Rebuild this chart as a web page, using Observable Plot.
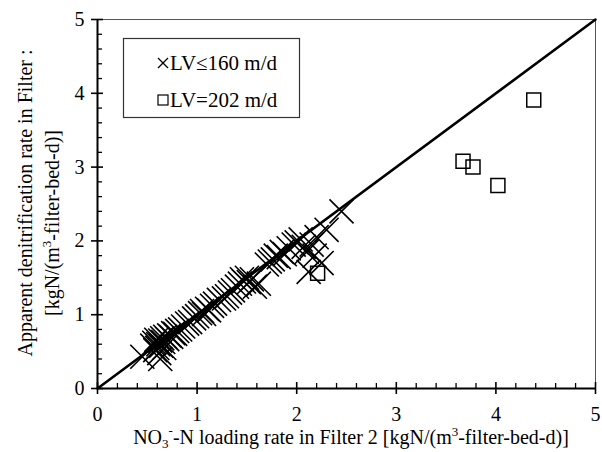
<!DOCTYPE html>
<html><head><meta charset="utf-8">
<script src="https://cdn.jsdelivr.net/npm/d3@7"></script>
<script src="https://cdn.jsdelivr.net/npm/@observablehq/plot@0.6"></script>
<style>
  body { margin: 0; background: #fff; }
  #chart svg { display: block; }
</style>
</head><body><div id="chart"></div>
<script>
// NO3-N loading rate (x) vs apparent denitrification rate (y), kgN/(m3-filter-bed-d)
// Runs with LV ≤ 160 m/d
const lowLV_x = [0.45, 0.63, 0.55, 0.57, 0.58, 0.59, 0.60, 0.61, 0.62, 0.63,
                 0.64, 0.65, 0.66, 0.67, 0.68, 0.70, 0.72, 0.74, 0.76, 0.78,
                 0.80, 0.83, 0.86, 0.90, 0.93, 0.97, 1.00, 1.03, 1.05, 1.07,
                 1.10, 1.12, 1.15, 1.18, 1.22, 1.27, 1.30, 1.33, 1.36, 1.40,
                 1.43, 1.45, 1.47, 1.50, 1.52, 1.55, 1.58, 1.62, 1.70, 1.73,
                 1.76, 1.79, 1.82, 1.85, 1.88, 1.92, 1.97, 2.00, 2.04, 2.07,
                 2.10, 2.12, 2.15, 2.18, 2.20, 2.25, 2.30, 2.45];
const lowLV_y = [0.43, 0.40, 0.58, 0.62, 0.52, 0.66, 0.55, 0.60, 0.48, 0.65,
                 0.58, 0.68, 0.63, 0.55, 0.70, 0.67, 0.72, 0.70, 0.75, 0.74,
                 0.78, 0.80, 0.84, 0.88, 0.90, 0.95, 0.98, 1.02, 1.05, 1.01,
                 1.08, 1.06, 1.12, 1.15, 1.20, 1.22, 1.25, 1.30, 1.33, 1.38,
                 1.42, 1.48, 1.45, 1.50, 1.44, 1.48, 1.38, 1.42, 1.68, 1.72,
                 1.75, 1.80, 1.78, 1.85, 1.82, 1.90, 1.95, 1.98, 2.02, 1.92,
                 1.85, 1.58, 1.95, 1.80, 2.05, 1.70, 2.15, 2.40];
// Runs with LV = 202 m/d
const highLV_x = [2.21, 3.67, 3.77, 4.02, 4.38];
const highLV_y = [1.56, 3.08, 3.00, 2.75, 3.91];

const axisTicks = [0, 1, 2, 3, 4, 5];
const parityLine = [0, 5];
const legendLabels = ["LV≤160 m/d", "LV=202 m/d"];

const W = 602, H = 452;
const margin = {left: 97, right: 7, top: 19, bottom: 64};
const plotW = W - margin.left - margin.right;
const plotH = H - margin.top - margin.bottom;
const font = "'Liberation Serif', 'Times New Roman', serif";

const lowLV = lowLV_x.map((x, i) => ({x, y: lowLV_y[i]}));
const highLV = highLV_x.map((x, i) => ({x, y: highLV_y[i]}));
const minorTicks = d3.range(0, 5.001, 0.2).filter(v => Math.abs(v - Math.round(v)) > 1e-6);

const minorLen = 5, majorHalf = 6;

const chart = Plot.plot({
  width: W, height: H,
  marginLeft: margin.left, marginRight: margin.right,
  marginTop: margin.top, marginBottom: margin.bottom,
  style: {fontFamily: font, fontSize: "20px", color: "black", background: "white"},
  x: {domain: [0, 5]},
  y: {domain: [0, 5]},
  marks: [
    Plot.frame({stroke: "#555", strokeWidth: 1}),
    Plot.line(parityLine.map(v => ({x: v, y: v})), {x: "x", y: "y", stroke: "black", strokeWidth: 2.6}),
    Plot.dot(lowLV, {x: "x", y: "y", symbol: "times", r: 11, stroke: "black", strokeWidth: 1.6}),
    Plot.dot(highLV, {x: "x", y: "y", symbol: "square", r: 7.9, stroke: "black", fill: "none", strokeWidth: 1.5}),
    Plot.ruleY([0], {stroke: "black", strokeWidth: 2}),
    Plot.ruleX([0], {stroke: "black", strokeWidth: 2}),
    // x-axis ticks: minor ones point inward, major ones cross the axis
    Plot.tickX(minorTicks, {x: d => d, insetTop: plotH - minorLen, stroke: "black", strokeWidth: 1.3}),
    Plot.tickX(axisTicks, {x: d => d, insetTop: plotH - majorHalf, insetBottom: -majorHalf, stroke: "black", strokeWidth: 1.6}),
    // y-axis ticks
    Plot.tickY(minorTicks, {y: d => d, insetRight: plotW - minorLen, stroke: "black", strokeWidth: 1.3}),
    Plot.tickY(axisTicks, {y: d => d, insetRight: plotW - majorHalf, insetLeft: -majorHalf, stroke: "black", strokeWidth: 1.6}),
    Plot.axisX({ticks: axisTicks, tickSize: 0, tickPadding: 18, fontSize: 20, label: null, tickFormat: d => String(d)}),
    Plot.axisY({ticks: axisTicks, tickSize: 0, tickPadding: 13, fontSize: 20, label: null, tickFormat: d => String(d)})
  ]
});

document.getElementById("chart").appendChild(chart);

const svg = d3.select(chart);

// legend box
const lg = svg.append("g").attr("font-family", font).attr("font-size", 21).attr("text-anchor", "start");
lg.append("rect").attr("x", 123.5).attr("y", 38.5).attr("width", 176).attr("height", 79)
  .attr("fill", "white").attr("stroke", "#333").attr("stroke-width", 1.2);
const sx = 163, rows = [63, 100];
lg.append("path").attr("d", `M${sx-5},${rows[0]-5}L${sx+5},${rows[0]+5}M${sx+5},${rows[0]-5}L${sx-5},${rows[0]+5}`)
  .attr("stroke", "black").attr("stroke-width", 1.3).attr("fill", "none");
lg.append("rect").attr("x", sx - 5).attr("y", rows[1] - 5).attr("width", 10).attr("height", 10)
  .attr("stroke", "black").attr("stroke-width", 1.2).attr("fill", "none");
legendLabels.forEach((t, i) => {
  lg.append("text").attr("x", sx + 7).attr("y", rows[i]).attr("dy", "0.35em").text(t);
});

// x-axis title with sub/superscripts
const xt = svg.append("text").attr("font-family", font).attr("font-size", 20)
  .attr("text-anchor", "middle").attr("x", 351).attr("y", 444);
xt.append("tspan").text("NO");
xt.append("tspan").attr("font-size", 13).attr("dy", 4).text("3");
xt.append("tspan").attr("font-size", 13).attr("dy", -13).text("-");
xt.append("tspan").attr("dy", 9).text("-N loading rate in Filter 2 [kgN/(m");
xt.append("tspan").attr("font-size", 13).attr("dy", -8).text("3");
xt.append("tspan").attr("dy", 8).text("-filter-bed-d)]");

// y-axis title, two rotated lines
svg.append("text").attr("font-family", font).attr("font-size", 20)
  .attr("text-anchor", "middle").attr("transform", "translate(25,203) rotate(-90)").attr("dy", "0.35em")
  .text("Apparent denitrification rate in Filter :");
const yt2 = svg.append("text").attr("font-family", font).attr("font-size", 20)
  .attr("text-anchor", "middle").attr("transform", "translate(52,223) rotate(-90)").attr("dy", "0.35em");
yt2.append("tspan").text("[kgN/(m");
yt2.append("tspan").attr("font-size", 13).attr("dy", -8).text("3");
yt2.append("tspan").attr("dy", 8).text("-filter-bed-d)]");
</script>
</body></html>
